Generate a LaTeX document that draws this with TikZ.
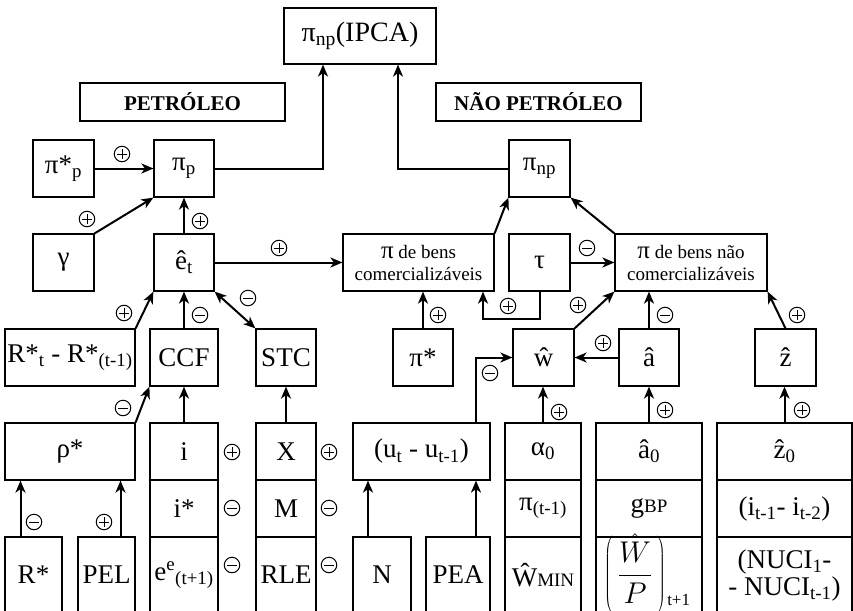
\RequirePackage{fix-cm}
\documentclass[tikz,border=0pt]{standalone}
\usepackage{fontspec}
\setmainfont{Liberation Serif}
\usetikzlibrary{arrows.meta}
\newcommand\mainsz{\fontsize{27}{29}\selectfont}
\newcommand\smsz{\fontsize{19}{22}\selectfont}
\tikzset{
  bx/.style={draw,line width=1.2pt,inner sep=0pt,align=center,font=\mainsz},
  tbx/.style={draw,line width=1.2pt,inner sep=0pt,align=center,font=\fontsize{21}{24}\selectfont\bfseries},
  wh/.style 2 args={minimum width=#1pt,minimum height=#2pt},
  arr/.style={line width=2pt,-{Stealth[length=12pt,width=10pt,inset=3.5pt]}},
  arrb/.style={line width=2pt,{Stealth[length=12pt,width=10pt,inset=3.5pt]}-{Stealth[length=12pt,width=10pt,inset=3.5pt]}},
  sg/.style={circle,draw,line width=1pt,minimum size=15.5pt,inner sep=0pt},
  sgp/.style={sg,path picture={\draw[line width=1pt]
     ([xshift=-5pt]path picture bounding box.center) -- ([xshift=5pt]path picture bounding box.center)
     ([yshift=-5pt]path picture bounding box.center) -- ([yshift=5pt]path picture bounding box.center);}},
  sgm/.style={sg,path picture={\draw[line width=1pt]
     ([xshift=-5pt]path picture bounding box.center) -- ([xshift=5pt]path picture bounding box.center);}},
}
\begin{document}
\begin{tikzpicture}[x=1pt,y=-1pt]
\clip (0,0) rectangle (853,610);
% top
\node[bx,wh={152}{56},font=\fontsize{28}{30}\selectfont] (ipca) at (360,36) {π\textsubscript{np}(IPCA)};
\node[tbx,wh={205}{38}] (petr) at (182.5,102) {PETRÓLEO};
\node[tbx,wh={205}{38}] (npetr) at (538.5,102) {NÃO PETRÓLEO};
% row 2
\node[bx,wh={61}{57}] (pisp) at (63.5,168.5) {π*\textsubscript{p}};
\node[bx,wh={60}{57}] (pip) at (184,168.5) {π\textsubscript{p}};
\node[bx,wh={61}{57}] (pinp) at (539.5,168.5) {π\textsubscript{np}};
% row 3
\node[bx,wh={61}{57}] (gamma) at (63.5,262.5) {γ};
\node[bx,wh={60}{57}] (et) at (184,262.5) {ê\textsubscript{t}};
\node[bx,wh={151}{57},font=\smsz] (comerc) at (418.5,262.5) {{\fontsize{25}{22}\selectfont π} de bens\\comercializáveis};
\node[bx,wh={61}{57}] (tau) at (539.5,262.5) {τ};
\node[bx,wh={152}{57},font=\smsz] (ncomerc) at (691,262.5) {{\fontsize{25}{22}\selectfont π} de bens não\\comercializáveis};
% row 4
\node[bx,wh={130}{57}] (rdiff) at (70,357.5) {R*\textsubscript{t} - R*\textsubscript{(t-1)}};
\node[bx,wh={68}{57}] (ccf) at (184,357.5) {CCF};
\node[bx,wh={60}{57}] (stc) at (286,357.5) {STC};
\node[bx,wh={60}{57}] (pistar) at (423,357.5) {π*};
\node[bx,wh={61}{57}] (what) at (543.5,357.5) {ŵ};
\node[bx,wh={60}{57}] (ahat) at (649,357.5) {â};
\node[bx,wh={61}{57}] (zhat) at (785.5,357.5) {ẑ};
% row 5
\node[bx,wh={130}{57}] (rho) at (70,451.5) {ρ*};
\node[bx,wh={68}{57}] (ii) at (184,451.5) {i};
\node[bx,wh={60}{57}] (xx) at (286,451.5) {X};
\node[bx,wh={137}{57}] (uu) at (421.5,451.5) {(u\textsubscript{t} - u\textsubscript{t-1})};
\node[bx,wh={76}{57}] (alpha) at (543,451.5) {α\textsubscript{0}};
\node[bx,wh={106}{57}] (a0) at (649,451.5) {â\textsubscript{0}};
\node[bx,wh={135}{57}] (z0) at (784.5,451.5) {ẑ\textsubscript{0}};
% row 6
\node[bx,wh={68}{57}] (istar) at (184,508.5) {i*};
\node[bx,wh={60}{57}] (mm) at (286,508.5) {M};
\node[bx,wh={76}{57}] (pilag) at (543,508.5) {π\textsubscript{(t-1)}};
\node[bx,wh={106}{57}] (gbp) at (649,508.5) {g{\smsz BP}};
\node[bx,wh={135}{57}] (idiff) at (784.5,508.5) {(i\textsubscript{t-1}- i\textsubscript{t-2})};
% row 7
\node[bx,wh={57}{76}] (rs) at (33.5,575) {R*};
\node[bx,wh={57}{76}] (pel) at (106.5,575) {PEL};
\node[bx,wh={68}{76}] (ee) at (184,575) {e\textsuperscript{e}\textsubscript{(t+1)}};
\node[bx,wh={60}{76}] (rle) at (286,575) {RLE};
\node[bx,wh={58}{76}] (nn) at (382,575) {N};
\node[bx,wh={64}{76}] (pea) at (458,575) {PEA};
\node[bx,wh={76}{76}] (wmin) at (543,575) {Ŵ{\smsz MIN}};
\node[bx,wh={106}{76}] (wp) at (649,575) {};
\node[inner sep=0pt,font=\fontsize{30}{32}\selectfont] (wpfrac) at ([xshift=-14pt,yshift=1pt]wp.center) {$\left(\,\displaystyle\frac{\hat{W}}{P}\,\right)$};
\node[inner sep=0pt,anchor=base west,font=\fontsize{17}{17}\selectfont] (wpsub) at ([xshift=1pt,yshift=9pt]wpfrac.south east) {t+1};
\node[bx,wh={135}{76},font=\fontsize{27}{27}\selectfont] (nuci) at (784.5,575) {(NUCI\textsubscript{1}-\\- NUCI\textsubscript{t-1})};
% helper coordinates
\coordinate (ipl) at ([xshift=-37pt]ipca.south);
\coordinate (ipr) at ([xshift=38pt]ipca.south);
\coordinate (tauin) at ([xshift=64.5pt]comerc.south);
\coordinate (uout) at ([xshift=54.5pt]uu.north);
\coordinate (rsout) at ([xshift=-13pt]rs.north);
\coordinate (pelout) at ([xshift=14pt]pel.north);
\coordinate (nout) at ([xshift=-14pt]nn.north);
\coordinate (peaout) at ([xshift=18pt]pea.north);
% connectors
\draw[arr] (pisp) -- (pip);
\draw[arr] (pip.east) -| (ipl);
\draw[arr] (pinp.west) -| (ipr);
\draw[arr] (gamma.north east) -- (pip.south west);
\draw[arr] (et) -- (pip);
\draw[arr] (et) -- (comerc);
\draw[arr] (comerc.north east) -- (pinp.south west);
\draw[arr] (ncomerc.north west) -- (pinp.south east);
\draw[arr] (tau) -- (ncomerc);
\draw[arr] (tau.south) -- ++(0,27) -| (tauin);
\draw[arr] (rdiff.north east) -- (et.south west);
\draw[arr] (ccf) -- (et);
\draw[arrb] (et.south east) -- (stc.north west);
\draw[arr] (pistar.north) -- (pistar.north |- comerc.south);
\draw[arr] (what.north east) -- (ncomerc.south west);
\draw[arr] (ahat) -- (what);
\draw[arr] (ahat.north) -- (ahat.north |- ncomerc.south);
\draw[arr] (zhat.north) -- (ncomerc.south east);
\draw[arr] (rho.north east) -- (ccf.south west);
\draw[arr] (ii) -- (ccf);
\draw[arr] (xx) -- (stc);
\draw[arr] (uout) |- (what.west);
\draw[arr] (alpha.north) -- (alpha.north |- what.south);
\draw[arr] (a0) -- (ahat);
\draw[arr] (z0.north) -- (z0.north |- zhat.south);
\draw[arr] (rsout) -- (rsout |- rho.south);
\draw[arr] (pelout) -- (pelout |- rho.south);
\draw[arr] (nout) -- (nout |- uu.south);
\draw[arr] (peaout) -- (peaout |- uu.south);
% signs
\node[sgp] (s1) at (122,154) {};
\node[sgp] (s2) at (87,219) {};
\node[sgp] (s3) at (200,221) {};
\node[sgp] (s4) at (279,248) {};
\node[sgp] (s5) at (124,313) {};
\node[sgm] (s6) at (200,315) {};
\node[sgm] (s7) at (248,298) {};
\node[sgp] (s8) at (438,315) {};
\node[sgp] (s9) at (508,306) {};
\node[sgm] (s10) at (587,248) {};
\node[sgp] (s11) at (578,305) {};
\node[sgp] (s12) at (603,343) {};
\node[sgm] (s13) at (665,315) {};
\node[sgp] (s14) at (797,315) {};
\node[sgm] (s15) at (490,373) {};
\node[sgm] (s16) at (123,408) {};
\node[sgp] (s17) at (559,412) {};
\node[sgp] (s18) at (665,410) {};
\node[sgp] (s19) at (802,410) {};
\node[sgm] (s20) at (34,522) {};
\node[sgp] (s21) at (104,522) {};
\node[sgp] (s22) at (232,452) {};
\node[sgm] (s23) at (232,508) {};
\node[sgm] (s24) at (232,565) {};
\node[sgp] (s25) at (329,452) {};
\node[sgm] (s26) at (329,508) {};
\node[sgm] (s27) at (329,565) {};
\end{tikzpicture}
\end{document}
